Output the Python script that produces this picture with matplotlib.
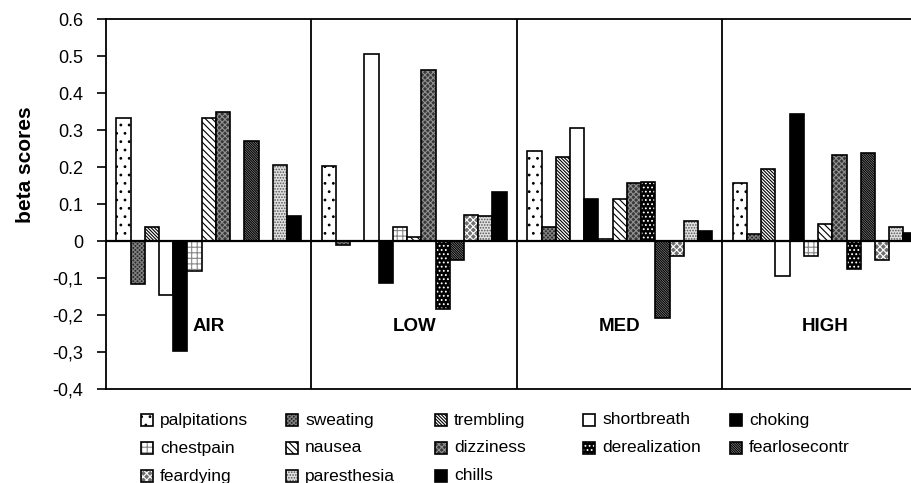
import numpy as np
import matplotlib.pyplot as plt
from matplotlib.patches import Rectangle

plt.rcParams['font.family'] = ['Liberation Sans', 'DejaVu Sans']
plt.rcParams['hatch.linewidth'] = 0.8

groups = ["AIR", "LOW", "MED", "HIGH"]
symptoms = ["palpitations", "sweating", "trembling", "shortbreath", "choking",
            "chestpain", "nausea", "dizziness", "derealization", "fearlosecontr",
            "feardying", "paresthesia", "chills"]

# beta scores per symptom, order AIR, LOW, MED, HIGH
palpitations = [0.334, 0.203, 0.244, 0.158]
sweating = [-0.116, -0.011, 0.039, 0.019]
trembling = [0.039, 0.0, 0.228, 0.196]
shortbreath = [-0.146, 0.507, 0.305, -0.094]
choking = [-0.297, -0.114, 0.113, 0.343]
chestpain = [-0.080, 0.039, 0.005, -0.040]
nausea = [0.334, 0.010, 0.113, 0.045]
dizziness = [0.350, 0.462, 0.158, 0.234]
derealization = [0.0, -0.184, 0.160, -0.076]
fearlosecontr = [0.271, -0.050, -0.209, 0.239]
feardying = [0.0, 0.072, -0.041, -0.051]
paresthesia = [0.205, 0.068, 0.055, 0.039]
chills = [0.068, 0.132, 0.027, 0.023]

values = [palpitations, sweating, trembling, shortbreath, choking, chestpain,
          nausea, dizziness, derealization, fearlosecontr, feardying,
          paresthesia, chills]

# facecolor, hatch colour, hatch
styles = [("white", "black", ".."),
          ("#2a2a2a", "#808080", "xxxxxxxx"),
          ("white", "black", "\\" * 10),
          ("white", "black", None),
          ("black", "black", None),
          ("white", "#888888", "+++"),
          ("white", "black", "\\" * 5),
          ("#383838", "#909090", "xxxxxx"),
          ("black", "white", "...."),
          ("#9a9a9a", "black", "\\" * 14),
          ("#707070", "white", "xxxxx"),
          ("#e0e0e0", "#555555", "......"),
          ("black", "black", None)]

W, H = 912, 483
fig = plt.figure(figsize=(W / 100, H / 100), dpi=100)
ax = fig.add_axes([106 / W, 94 / H, 822 / W, 369.7 / H])

n = len(symptoms)
w = 0.9 / n
gx = np.arange(len(groups))
for j, (name, vals) in enumerate(zip(symptoms, values)):
    fc, hc, h = styles[j]
    x = gx + 0.05 + (j + 0.5) * w
    ax.bar(x, vals, width=w, color=fc, edgecolor=hc, hatch=h, linewidth=0)
    ax.bar(x, vals, width=w, fill=False, edgecolor="black", linewidth=1.2)

ax.axhline(0, color="black", lw=1.6, zorder=3)
for k in range(1, len(groups)):
    ax.axvline(k, color="black", lw=1.3)

for i, g in enumerate(groups):
    ax.text(i + 0.5, -0.232, g, ha="center", va="center",
            fontsize=13.5, fontweight="bold")

ax.set_xlim(0, len(groups))
ax.set_ylim(-0.4, 0.6)
ax.set_xticks([])
yt = [-0.4, -0.3, -0.2, -0.1, 0, 0.1, 0.2, 0.3, 0.4, 0.5, 0.6]
ylabels = ["-0,4", "-0,3", "-0,2", "-0,1", "0", "0.1", "0.2", "0.3", "0.4", "0.5", "0.6"]
ax.set_yticks(yt)
ax.set_yticklabels(ylabels)
ax.tick_params(axis="y", direction="out", length=6.5, width=1.2, labelsize=13, pad=10)
for s in ax.spines.values():
    s.set_linewidth(1.3)
ax.set_ylabel("beta scores", fontsize=15, fontweight="bold")
ax.yaxis.set_label_coords(-0.086, 0.606)

# legend, Excel-style fixed grid
col_x = [141, 286, 435, 583, 730]
row_y = [420, 448, 476]
for j, name in enumerate(symptoms):
    fc, hc, h = styles[j]
    px = col_x[j % 5]
    py = row_y[j // 5]
    fig.add_artist(Rectangle((px / W, 1 - (py + 6) / H), 12 / W, 12 / H,
                             transform=fig.transFigure, facecolor=fc,
                             edgecolor=hc, hatch=h, linewidth=0))
    fig.add_artist(Rectangle((px / W, 1 - (py + 6) / H), 12 / W, 12 / H,
                             transform=fig.transFigure, fill=False,
                             edgecolor="black", linewidth=1.2))
    fig.text((px + 19) / W, 1 - py / H, name, fontsize=12.5, va="center", ha="left")

fig.savefig("out.png", dpi=100)
